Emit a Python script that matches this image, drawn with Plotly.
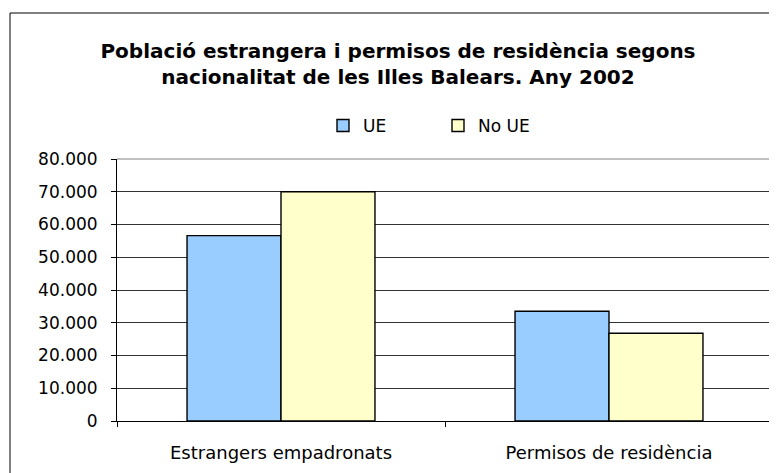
import plotly.graph_objects as go

# -- data --
categories = ["Estrangers empadronats", "Permisos de residència"]
ue_values = [56600, 33500]
no_ue_values = [70000, 26800]
y_ticks = [0, 10000, 20000, 30000, 40000, 50000, 60000, 70000, 80000]

FONT = "DejaVu Sans"

# the page puts the figure 8px in from the corner, so work in screen coords minus that
OFF = 8
W, H = 777 - OFF, 473 - OFF

# plot area on screen: x 117..773, y 159..421
ml, mr, mt, mb = 117 - OFF, 4, 159 - OFF, H - (421 - OFF)
pw, ph = W - ml - mr, H - mt - mb

def px(x):
    return (x - OFF - ml) / pw

def py(y):
    return (H - mb - (y - OFF)) / ph

fig = go.Figure()

fig.add_trace(go.Bar(x=categories, y=ue_values, name="UE",
                     marker=dict(color="#99CCFF", line=dict(color="black", width=1.4))))
fig.add_trace(go.Bar(x=categories, y=no_ue_values, name="No UE",
                     marker=dict(color="#FFFFCC", line=dict(color="black", width=1.4))))

fig.update_layout(
    width=W, height=H,
    margin=dict(l=ml, r=mr, t=mt, b=mb, pad=0),
    paper_bgcolor="white", plot_bgcolor="white",
    separators=",.",
    font=dict(family=FONT, size=17, color="black"),
    barmode="group", bargap=0.427, bargroupgap=0,
    title=dict(
        text="Població estrangera i permisos de residència segons<br>nacionalitat de les Illes Balears. Any 2002",
        font=dict(family=FONT, size=20, color="black", weight="bold"),
        x=(398 - OFF) / W, xref="container", xanchor="center",
        y=(H - 50) / H, yref="container", yanchor="top",
    ),
    legend=dict(orientation="h", x=px(323), xanchor="left", y=py(126), yanchor="middle",
                font=dict(family=FONT, size=17), itemwidth=30,
                entrywidth=70, entrywidthmode="pixels", bgcolor="rgba(0,0,0,0)"),
    showlegend=True,
)

fig.update_yaxes(range=[0, 80000], tickvals=y_ticks, tickformat=",d",
                 showgrid=True, gridcolor="#333333", gridwidth=1,
                 showline=True, linecolor="black", linewidth=1,
                 ticks="outside", ticklen=5, tickcolor="black",
                 ticklabelstandoff=10, zeroline=False, fixedrange=True)
fig.update_xaxes(showline=True, linecolor="black", linewidth=1,
                 ticks="outside", ticklen=5, tickcolor="black", tickson="boundaries",
                 tickfont=dict(size=18),
                 ticklabelstandoff=15, showgrid=False, fixedrange=True)

# plot area top/right edge in grey
fig.add_shape(type="line", xref="paper", yref="paper", x0=0, x1=1, y0=1, y1=1,
              line=dict(color="#808080", width=1), layer="above")
fig.add_shape(type="line", xref="paper", yref="paper", x0=1, x1=1, y0=0, y1=1,
              line=dict(color="#808080", width=1), layer="above")

# outer chart border (runs past the right and bottom edges)
fig.add_shape(type="rect", xref="paper", yref="paper",
              x0=px(10), x1=px(790), y0=py(490), y1=py(13),
              line=dict(color="black", width=1), layer="below")

fig.write_html("out.html")
